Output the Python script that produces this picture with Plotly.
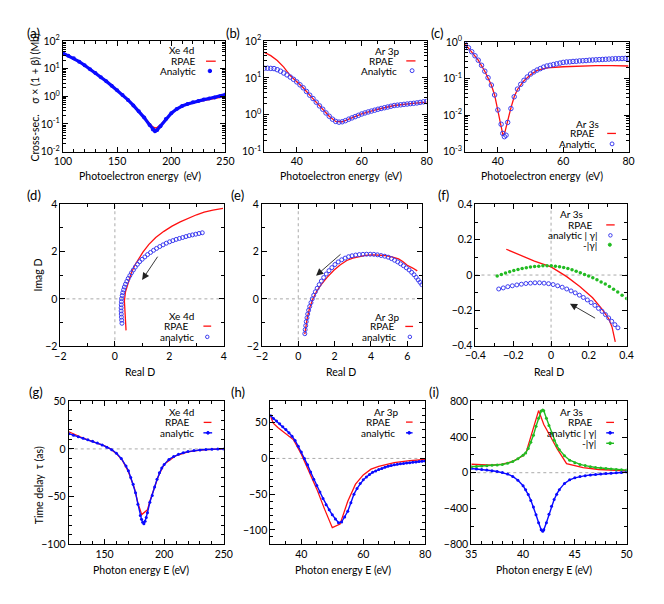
import plotly.graph_objects as go

FONT = "Lato"
W, H = 664, 604          # browser window
PAD = 8                  # default body margin of the html page
FW, FH = W - 2 * PAD, H - 2 * PAD

# ---------------- data ----------------
# (a) Xe 4d cross-section
xa_ana = [100,105,110,115,120,125,130,135,140,145,150,155,160,165,170,175,180,183,185,187,190,195,200,205,210,215,220,225,230,235,240,245,250]
ya_ana = [36.3,28.8,23.4,17.8,13.2,9.55,6.92,4.90,3.47,2.40,1.66,1.12,0.741,0.468,0.288,0.170,0.0912,0.0631,0.0550,0.0603,0.0832,0.151,0.245,0.347,0.447,0.525,0.603,0.676,0.759,0.832,0.912,1.0,1.15]
xa_rpae = [100,110,120,130,140,150,160,170,175,180,183,185,187,190,195,200,210,220,225,230,235,240,245,250]
ya_rpae = [36.3,23.4,13.2,6.92,3.47,1.66,0.741,0.288,0.170,0.10,0.079,0.072,0.076,0.093,0.151,0.245,0.447,0.59,0.64,0.70,0.76,0.82,0.90,1.0]

# (b) Ar 3p cross-section
xb_ana = list(range(30, 81))
yb_ana = [18.2,18.2,18.0,17.8,16.6,15.1,13.5,12.0,10.5,9.12,7.76,6.46,5.37,4.27,3.39,2.75,2.19,1.74,1.41,1.12,
          0.912,0.759,0.661,0.631,0.646,0.692,0.759,0.822,0.891,0.966,1.05,1.12,1.19,1.26,1.33,1.41,1.48,1.55,1.62,1.70,
          1.78,1.82,1.86,1.91,1.95,2.00,2.04,2.09,2.16,2.24,2.29]
xb_rpae = [30,32,34,36,38,40,42,44,46,48,50,52,54,56,58,60,65,70,75,80]
yb_rpae = [49.0,39.8,29.5,19.5,11.5,7.9,5.37,3.39,2.19,1.41,0.912,0.661,0.646,0.759,0.891,1.05,1.41,1.78,2.0,2.19]

# (c) Ar 3s cross-section
xc_ana = [30,31,32,33,34,35,36,37,38,39,40,41,41.5,42,42.5,43,44,45,46,47,48,49,50,51,52,53,54,55,56,57,58,59,60,
          61,62,63,64,65,66,67,68,69,70,71,72,73,74,75,76,77,78,79,80]
yc_ana = [0.871,0.692,0.537,0.417,0.316,0.229,0.158,0.105,0.0661,0.0355,0.0138,0.00562,0.00316,0.00257,0.00282,0.00631,
          0.0151,0.0316,0.0513,0.0692,0.0891,0.110,0.132,0.151,0.170,0.186,0.204,0.219,0.229,0.240,0.251,0.263,0.275,
          0.282,0.285,0.292,0.295,0.302,0.305,0.309,0.316,0.320,0.324,0.327,0.331,0.335,0.339,0.343,0.347,0.348,0.351,0.353,0.355]
xc_rpae = [30,32,34,36,38,39,40,41,41.6,42.2,43,44,45,46,48,50,52,55,60,65,70,75,80]
yc_rpae = [0.871,0.537,0.316,0.158,0.0661,0.0355,0.0138,0.00562,0.00269,0.00355,0.00708,0.0158,0.0316,0.0501,0.0871,
           0.126,0.166,0.195,0.209,0.219,0.224,0.224,0.219]

# (d) Xe 4d complex D
xd_rpae = [0.41,0.38,0.35,0.35,0.39,0.49,0.60,0.73,0.87,1.03,1.25,1.50,1.80,2.10,2.40,2.69,3.00,3.28,3.60,3.97]
yd_rpae = [-1.33,-0.90,-0.45,-0.09,0.30,0.73,1.08,1.42,1.70,1.97,2.30,2.59,2.85,3.07,3.25,3.41,3.55,3.66,3.75,3.82]
xd_ana = [0.26,0.25,0.24,0.235,0.23,0.23,0.235,0.24,0.245,0.27,0.29,0.32,0.35,0.39,0.44,0.49,0.55,0.61,0.68,0.75,
          0.83,0.91,1.00,1.10,1.20,1.31,1.42,1.53,1.65,1.77,1.89,2.01,2.13,2.25,2.37,2.49,2.61,2.73,2.85,2.97,3.09,3.21]
yd_ana = [-1.03,-0.90,-0.77,-0.64,-0.51,-0.38,-0.25,-0.12,0.01,0.14,0.26,0.38,0.50,0.62,0.74,0.86,0.98,1.10,1.22,1.34,
          1.46,1.57,1.67,1.77,1.87,1.96,2.05,2.13,2.21,2.28,2.35,2.41,2.46,2.51,2.55,2.59,2.63,2.67,2.70,2.73,2.76,2.79]

# (e) Ar 3p complex D
xe_rpae = [0.36,0.42,0.50,0.63,0.80,1.00,1.25,1.60,1.96,2.30,2.67,3.00,3.38,3.70,4.09,4.45,4.80,5.15,5.52,5.75,6.00,6.30,6.55]
ye_rpae = [-1.49,-1.10,-0.78,-0.37,-0.02,0.30,0.59,0.92,1.21,1.43,1.62,1.72,1.80,1.84,1.86,1.85,1.83,1.77,1.69,1.58,1.42,1.30,1.18]
xe_ana = [0.36,0.38,0.41,0.44,0.48,0.52,0.57,0.63,0.70,0.77,0.85,0.94,1.04,1.15,1.27,1.40,1.54,1.69,1.85,2.02,2.20,2.39,
          2.58,2.77,2.96,3.16,3.36,3.56,3.76,3.96,4.16,4.36,4.56,4.76,4.95,5.13,5.30,5.47,5.63,5.79,5.95,6.10,6.24,6.37,
          6.49,6.60,6.70,6.80]
ye_ana = [-1.47,-1.30,-1.13,-0.96,-0.80,-0.64,-0.48,-0.32,-0.16,0.00,0.15,0.30,0.45,0.60,0.75,0.90,1.05,1.19,1.32,1.45,
          1.56,1.65,1.72,1.78,1.82,1.85,1.87,1.88,1.885,1.885,1.88,1.86,1.83,1.80,1.76,1.70,1.63,1.56,1.48,1.40,1.31,
          1.22,1.12,1.02,0.91,0.80,0.70,0.60]

# (f) Ar 3s complex D
xf_rpae = [-0.237,-0.157,-0.088,0.0,0.083,0.152,0.22,0.271,0.306,0.323,0.34]
yf_rpae = [0.146,0.111,0.079,0.046,-0.009,-0.065,-0.129,-0.194,-0.249,-0.295,-0.378]
xf_ana = [-0.277,-0.253,-0.229,-0.205,-0.181,-0.157,-0.133,-0.109,-0.085,-0.061,-0.037,-0.013,0.011,0.035,0.059,0.083,
          0.106,0.128,0.150,0.171,0.192,0.212,0.232,0.251,0.270,0.288,0.305,0.321,0.338,0.354]
yf_ana = [-0.079,-0.073,-0.066,-0.061,-0.056,-0.052,-0.048,-0.046,-0.044,-0.044,-0.046,-0.049,-0.054,-0.061,-0.069,-0.079,
          -0.090,-0.101,-0.114,-0.127,-0.141,-0.156,-0.172,-0.189,-0.206,-0.224,-0.243,-0.262,-0.281,-0.299]
xf_neg = [-0.285,-0.263,-0.241,-0.219,-0.197,-0.175,-0.153,-0.131,-0.109,-0.087,-0.065,-0.043,-0.021,0.001,0.023,0.045,
          0.067,0.089,0.111,0.133,0.155,0.177,0.199,0.221,0.243,0.265,0.287,0.309,0.331,0.353,0.376,0.40]
yf_neg = [-0.006,0.003,0.011,0.019,0.026,0.032,0.037,0.041,0.045,0.048,0.050,0.052,0.052,0.052,0.050,0.047,
          0.043,0.037,0.030,0.022,0.013,0.003,-0.006,-0.016,-0.027,-0.039,-0.051,-0.065,-0.080,-0.096,-0.114,-0.133]

# (g) Xe 4d time delay
xg_ana = [120,124,128,132,136,140,144,148,152,156,160,164,168,170,172,174,176,178,180,181,182,183,184,185,186,188,190,
          192,194,196,198,200,204,208,212,216,220,225,230,235,240,245,250]
yg_ana = [16,14.3,12.8,11.2,9.6,8.0,6.3,4.2,1.8,-0.8,-4.5,-10,-18,-23,-30,-37,-46,-58,-70,-74,-77,-78.6,-76,-72,-67,
          -56,-49,-40,-32,-25,-20,-16.5,-11,-8,-5.6,-4,-2.8,-1.8,-1.1,-0.7,-0.4,-0.2,0]
xg_rpae = [120,125,130,135,140,145,150,155,160,165,170,175,178,181.2,186,188,190,195,200,210,220,230,240,250]
yg_rpae = [18,15,12.5,10,8,5.7,3.2,0,-5,-12,-24,-41,-57,-69,-64,-55,-48,-29,-16,-7,-3,-1.2,-0.4,0]

# (h) Ar 3p time delay
xh_ana = list(range(30, 81))
yh_ana = [60,56,52.5,48.5,44.5,40.5,36,31,25,17,9,0,-9,-19,-29,-38,-47,-56,-65,-72,-79,-85,-90,-89,-82,-74,-62,-50,
          -42,-35,-30,-26,-22.5,-19.5,-17.5,-15.5,-14,-12.5,-11,-10,-9,-8.3,-7.6,-7,-6.4,-5.9,-5.4,-4.9,-4.4,-4,-3.5]
xh_rpae = [30,31,32.5,35,37.5,40,42.5,45,47.5,50,52.5,55,57.5,60,62.5,65,70,75,80]
yh_rpae = [59,49,43,35,26,6,-18,-43,-71,-97,-92,-60,-36,-23,-15,-11,-6,-3,-1.5]

# (i) Ar 3s time delay
xi_ana = [35,35.5,36,36.5,37,37.5,38,38.5,39,39.5,40,40.25,40.5,40.75,41,41.25,41.5,41.75,41.9,42,42.25,42.5,42.75,43,
          43.25,43.5,44,44.5,45,45.5,46,46.5,47,47.5,48,48.5,49,49.5,50]
yi_ana = [47,42,36,29,22,13,2,-15,-42,-85,-145,-190,-245,-310,-385,-470,-560,-640,-656,-640,-560,-465,-375,-300,
          -240,-190,-120,-80,-57,-43,-33,-25,-19,-14,-9,-5,-1,3,7]
yi_neg = [66,70,74,79,83,87,92,105,125,155,195,222,270,340,420,520,610,690,703,695,610,530,445,365,
          305,258,190,140,112,93,80,68,59,53,47,41,36,32,29]
xi_rpae = [35,36,37,38,39,40,40.3,41.5,42,42.7,43.3,44.2,45.8,47.3,50]
yi_rpae = [95,88,85,95,128,190,230,696,540,394,266,102,58,36,22]

# ---------------- styling ----------------
RED = "#ff1010"
BLUE = "#0a0aff"
BLUE_O = "#3c3cf0"
GREEN = "#22bb22"

fig = go.Figure()

def add(k, x, y, **kw):
    fig.add_trace(go.Scatter(x=x, y=y, xaxis="x" if k == 1 else f"x{k}",
                             yaxis="y" if k == 1 else f"y{k}", showlegend=False,
                             hoverinfo="skip", **kw))

red_line = dict(mode="lines", line=dict(color=RED, width=1.3))
open_big = dict(mode="markers", marker=dict(symbol="circle-open", color=BLUE_O, size=4.5, line=dict(width=1)))
open_small = dict(mode="markers", marker=dict(symbol="circle-open", color=BLUE_O, size=4, line=dict(width=1)))
# (a)
add(1, xa_rpae, ya_rpae, **red_line)
add(1, xa_ana, ya_ana, mode="lines+markers", line=dict(color=BLUE, width=3.2),
    marker=dict(color=BLUE, size=4))
# (b)
add(2, xb_rpae, yb_rpae, **red_line)
add(2, xb_ana, yb_ana, **open_big)
# (c)
add(3, xc_rpae, yc_rpae, **red_line)
add(3, xc_ana, yc_ana, **open_big)
# (d)
add(4, xd_rpae, yd_rpae, **red_line)
add(4, xd_ana, yd_ana, **open_small)
# (e)
add(5, xe_rpae, ye_rpae, **red_line)
add(5, xe_ana, ye_ana, **open_small)
# (f)
add(6, xf_rpae, yf_rpae, **red_line)
add(6, xf_ana, yf_ana, **open_small)
add(6, xf_neg, yf_neg, mode="markers", marker=dict(color=GREEN, size=3.5))
# (g)
lm_blue = dict(mode="lines+markers", line=dict(color=BLUE, width=1.4), marker=dict(color=BLUE, size=3))
add(7, xg_rpae, yg_rpae, **red_line)
add(7, xg_ana, yg_ana, **lm_blue)
# (h)
add(8, xh_rpae, yh_rpae, **red_line)
add(8, xh_ana, yh_ana, **lm_blue)
# (i)
add(9, xi_rpae, yi_rpae, **red_line)
add(9, xi_ana, yi_ana, **lm_blue)
add(9, xi_ana, yi_neg, mode="lines+markers", line=dict(color=GREEN, width=1.4),
    marker=dict(color=GREEN, size=3))

# ---------------- axes ----------------
def fx(p):
    return (p - PAD) / FW

def fy(p):
    return 1 - (p - PAD) / FH

boxes = {
    1: (54.3, 221.7, 33.5, 147), 2: (261.7, 429, 33.5, 147), 3: (468.7, 637, 34.5, 147),
    4: (51.7, 220, 200.7, 346.3), 5: (259.3, 424, 200.7, 346.3), 6: (479.3, 635, 201, 345.7),
    7: (60.3, 220, 402.7, 549), 8: (268, 427.5, 402.7, 549), 9: (475, 635, 402.7, 549),
}
xspec = {
    1: dict(range=[100, 250], dtick=50, minor=10), 2: dict(range=[30, 80], dtick=20, minor=5),
    3: dict(range=[30, 80], dtick=20, minor=5), 4: dict(range=[-2, 4], dtick=2, minor=1),
    5: dict(range=[-2, 6.8], dtick=2, minor=1), 6: dict(range=[-0.4, 0.4], dtick=0.2, minor=0.1),
    7: dict(range=[120, 250], dtick=50, minor=10), 8: dict(range=[30, 80], dtick=20, minor=5),
    9: dict(range=[35, 50], dtick=5, minor=1),
}
yspec = {
    1: dict(log=(-2, 2)), 2: dict(log=(-1, 2)), 3: dict(log=(-3, 0)),
    4: dict(range=[-2, 4], dtick=2, minor=1), 5: dict(range=[-2, 4], dtick=2, minor=1),
    6: dict(range=[-0.4, 0.4], dtick=0.2, minor=0.1),
    7: dict(range=[-100, 50], dtick=50, minor=10), 8: dict(range=[-120, 80], dtick=50, minor=10),
    9: dict(range=[-800, 800], dtick=400, minor=200),
}

def common():
    return dict(showline=True, linecolor="black", linewidth=1, mirror="ticks", ticks="inside",
                ticklen=5, tickwidth=1, tickcolor="black", showgrid=False, zeroline=False,
                tickfont=dict(family=FONT, size=10.5, color="black"))

layout = {}
for k, (l, r, t, b) in boxes.items():
    xn = "xaxis" if k == 1 else f"xaxis{k}"
    yn = "yaxis" if k == 1 else f"yaxis{k}"
    xs = xspec[k]
    xa = common()
    xa.update(domain=[fx(l), fx(r)], range=xs["range"], dtick=xs["dtick"], tick0=0,
              anchor="y" if k == 1 else f"y{k}",
              minor=dict(ticks="inside", ticklen=3, dtick=xs["minor"], tick0=0, tickcolor="black"))
    ya = common()
    ya.update(domain=[fy(b), fy(t)], anchor="x" if k == 1 else f"x{k}")
    ys = yspec[k]
    if "log" in ys:
        lo, hi = ys["log"]
        vals = [10.0 ** e for e in range(lo, hi + 1)]
        ya.update(type="log", range=[lo, hi], tickmode="array", tickvals=vals,
                  ticktext=[f"10<sup>{e}</sup>" for e in range(lo, hi + 1)],
                  minor=dict(ticks="inside", ticklen=3, dtick="D1", tickcolor="black"))
    else:
        ya.update(range=ys["range"], dtick=ys["dtick"], tick0=0,
                  minor=dict(ticks="inside", ticklen=3, dtick=ys["minor"], tick0=0, tickcolor="black"))
    layout[xn] = xa
    layout[yn] = ya

shapes = []
annotations = []

# dotted zero lines
for k in (4, 5, 6, 7, 8, 9):
    xr, yr = f"x{k}", f"y{k}"
    shapes.append(dict(type="line", xref=f"{xr} domain", yref=yr, x0=0, x1=1, y0=0, y1=0,
                       line=dict(color="#aaaaaa", width=1, dash="dot"), layer="below"))
    if k in (4, 5, 6):
        shapes.append(dict(type="line", xref=xr, yref=f"{yr} domain", x0=0, x1=0, y0=0, y1=1,
                           line=dict(color="#aaaaaa", width=1, dash="dot"), layer="below"))

# arrows
for k, (hx, hy, tx, ty) in {4: (1.0, 0.8, 1.68, 1.97), 5: (0.98, 0.98, 2.49, 1.99),
                             6: (0.1, -0.162, 0.249, -0.254)}.items():
    annotations.append(dict(x=hx, y=hy, ax=tx, ay=ty, xref=f"x{k}", yref=f"y{k}",
                            axref=f"x{k}", ayref=f"y{k}", showarrow=True, arrowhead=2,
                            arrowsize=1.6, arrowwidth=0.9, arrowcolor="#222222", text=" "))

def txt(x, y, s, size=10, anchor="right", angle=0):
    annotations.append(dict(x=fx(x), y=fy(y), xref="paper", yref="paper", text=s, showarrow=False,
                            xanchor=anchor, yanchor="middle", textangle=angle,
                            font=dict(family=FONT, size=size, color="black")))

def sline(x0, x1, y, color, w=1.3):
    shapes.append(dict(type="line", xref="paper", yref="paper", x0=fx(x0), x1=fx(x1), y0=fy(y), y1=fy(y),
                       line=dict(color=color, width=w)))

def sdot(xc, y, color, r=2.0, hollow=False):
    shapes.append(dict(type="circle", xref="paper", yref="paper", x0=fx(xc - r), x1=fx(xc + r),
                       y0=fy(y + r), y1=fy(y - r), line=dict(color=color, width=1),
                       fillcolor="rgba(0,0,0,0)" if hollow else color))

# legends
txt(176.7, 43.3, "Xe 4d", anchor="center"); txt(193, 54.3, "RPAE"); txt(193.3, 64.3, "Analytic")
sline(201.7, 211.7, 54.3, RED); sdot(205.7, 64.3, BLUE, 1.8)

txt(388.5, 44, "Ar 3p", anchor="center"); txt(397, 54, "RPAE"); txt(400.5, 64, "Analytic")
sline(408, 417.5, 54, RED); sdot(414, 64, BLUE_O, 2.0, hollow=True)

txt(595, 118.3, "Ar 3s", anchor="center"); txt(604, 128.3, "RPAE"); txt(605, 139, "Analytic")
sline(615, 624, 128.3, RED); sdot(620, 139, BLUE_O, 2.0, hollow=True)

txt(176.7, 315.7, "Xe 4d", anchor="center"); txt(186, 325.7, "RPAE"); txt(191.7, 336.7, "analytic")
sline(199, 207, 325.7, RED); sdot(203, 336.7, BLUE_O, 1.8, hollow=True)

txt(389, 316, "Ar 3p", anchor="center"); txt(398.3, 326, "RPAE"); txt(399, 336.7, "analytic")
sline(407, 415, 326, RED); sdot(411.7, 336.7, BLUE_O, 1.8, hollow=True)

txt(578, 211, "Ar 3s", anchor="center"); txt(602.7, 222, "RPAE"); txt(607.7, 232.7, "analytic | γ|")
txt(606.7, 242.3, "-|γ|")
sline(614, 622.7, 222, RED); sdot(618.3, 232.7, BLUE_O, 1.8, hollow=True); sdot(617.7, 242.3, GREEN, 1.6)

txt(176, 414, "Xe 4d", anchor="center"); txt(187.7, 424.3, "RPAE"); txt(191.7, 435, "analytic")
sline(199.3, 207.3, 424.3, RED); sline(199, 208, 435, BLUE, 1.4); sdot(203.7, 435, BLUE, 1.4)

txt(388, 414, "Ar 3p", anchor="center"); txt(394.3, 424, "RPAE"); txt(398.7, 435, "analytic")
sline(407.7, 414.5, 424, RED); sline(407.7, 414.5, 435, BLUE, 1.4); sdot(411, 435, BLUE, 1.4)

txt(578, 414, "Ar 3s", anchor="center"); txt(602.3, 424.3, "RPAE"); txt(606.7, 435, "analytic | γ|")
txt(606, 445.7, "-|γ|")
sline(614, 622, 424.3, RED); sline(614, 622, 435, BLUE, 1.4); sdot(618, 435, BLUE, 1.4)
sline(614, 622, 445.7, GREEN, 1.4); sdot(618, 445.7, GREEN, 1.4)

# axis titles
for xc in (133.7, 341, 548):
    txt(xc, 172, "Photoelectron energy  (eV)", size=10.5, anchor="center")
for xc in (133.7, 341, 555):
    txt(xc, 372.7, "Real D", size=10.5, anchor="center")
for xc in (135, 342.7, 550):
    txt(xc, 576, "Photon energy E (eV)", size=10.5, anchor="center")
txt(25, 92, "Cross-sec.    σ × (1 + β) (Mb)", size=10.5, anchor="center", angle=-90)
txt(28.3, 273, "Imag D", size=10.5, anchor="center", angle=-90)
txt(29.3, 489, "Time delay  τ (as)", size=10.5, anchor="center", angle=-90)

# panel labels
for (x, y, s) in [(24, 25, "(a)"), (229, 25, "(b)"), (440, 25, "(c)"),
                  (24, 191, "(d)"), (234, 191, "(e)"), (446, 191, "(f)"),
                  (27, 393, "(g)"), (235, 393, "(h)"), (437, 393, "(i)")]:
    txt(x, y, s, size=13, anchor="center")

fig.update_layout(width=FW, height=FH, autosize=False, margin=dict(l=0, r=0, t=0, b=0),
                  paper_bgcolor="white", plot_bgcolor="white", showlegend=False,
                  font=dict(family=FONT, color="black"), shapes=shapes, annotations=annotations,
                  **layout)

fig.write_html("out.html")
